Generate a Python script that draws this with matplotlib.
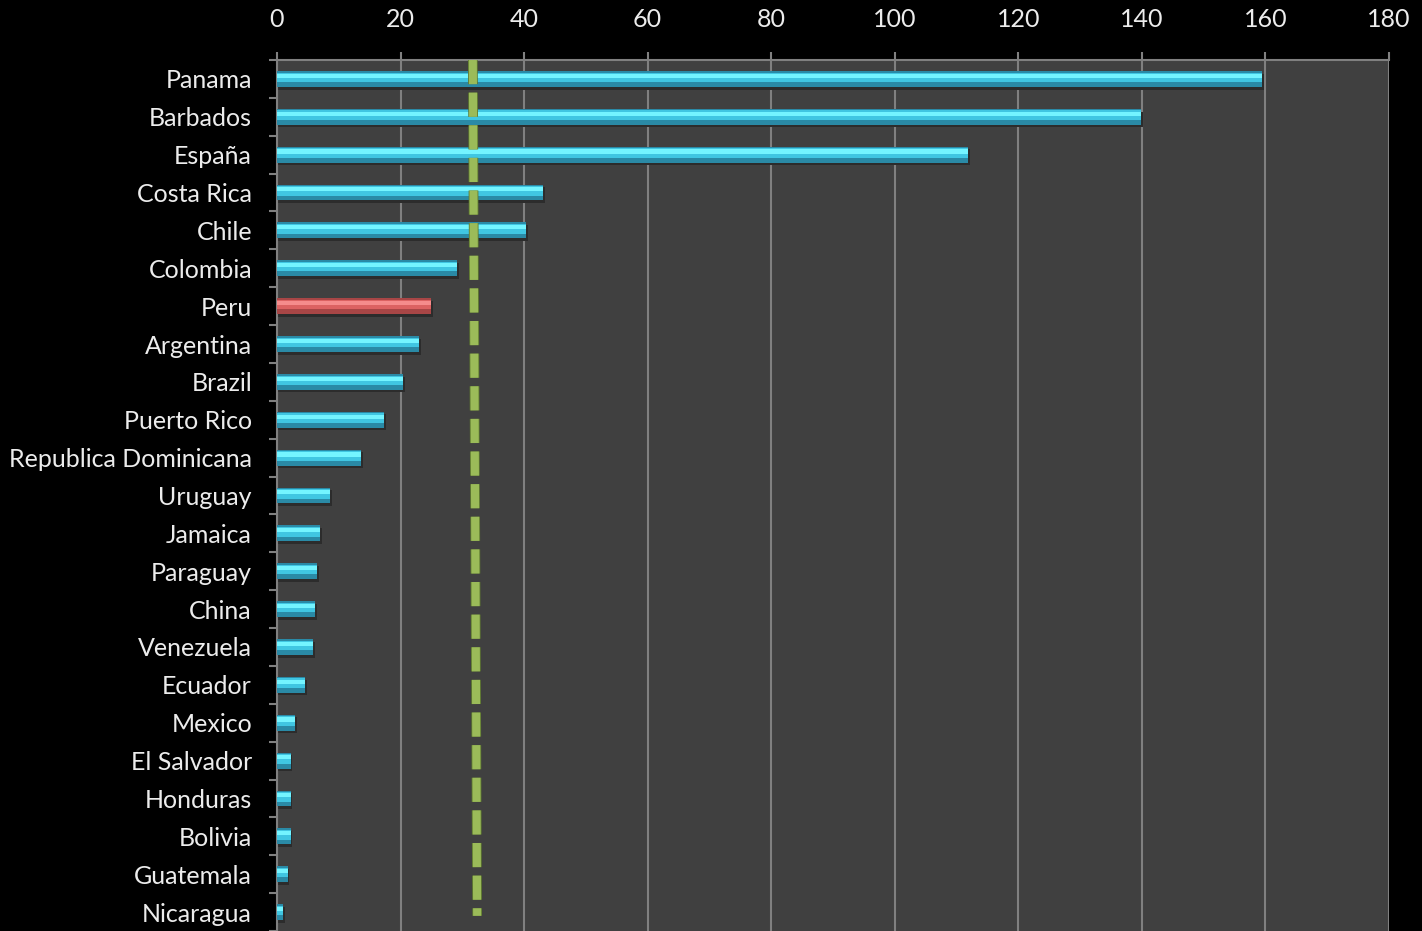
import matplotlib.pyplot as plt
import matplotlib.patheffects as pe
import numpy as np

plt.rcParams['font.family'] = ['Lato', 'DejaVu Sans']

countries = ["Panama", "Barbados", "España", "Costa Rica", "Chile", "Colombia",
             "Peru", "Argentina", "Brazil", "Puerto Rico", "Republica Dominicana",
             "Uruguay", "Jamaica", "Paraguay", "China", "Venezuela", "Ecuador",
             "Mexico", "El Salvador", "Honduras", "Bolivia", "Guatemala", "Nicaragua"]
values = [159.5, 139.8, 111.8, 43.1, 40.3, 29.2, 24.9, 23.0, 20.4, 17.3, 13.6,
          8.6, 7.0, 6.5, 6.2, 5.8, 4.6, 2.9, 2.2, 2.2, 2.2, 1.7, 1.0]
highlight = "Peru"
avg_top, avg_bottom = 31.7, 32.4   # reference line, drawn slightly tilted

BG = "#000000"
PLOT_BG = "#404040"
GRID = "#808080"
TEXT = "#ececec"

fig = plt.figure(figsize=(14.22, 9.31), dpi=100, facecolor=BG)
ax = fig.add_axes([277 / 1422, 0, 1112 / 1422, 871 / 931], facecolor=PLOT_BG)

y = np.arange(len(countries))
h = 0.42
for yi, (name, v) in enumerate(zip(countries, values)):
    if name == highlight:
        base, mid, top = "#a84646", "#dc6262", "#f58c8c"
    else:
        base, mid, top = "#2a8aa6", "#40c6e2", "#74f4ff"
    # soft drop shadow under each bar
    ax.barh(yi + 0.07, v + 0.3, height=h, color="#2c2c2c", zorder=2)
    ax.barh(yi, v, height=h, color=base, zorder=3)
    ax.barh(yi - h * 0.1, v, height=h * 0.6, color=mid, zorder=4)
    ax.barh(yi - h * 0.2, v, height=h * 0.26, color=top, zorder=5)

ax.plot([avg_top, avg_bottom], [-0.5, 22.1], color="#9bbb59", lw=5.8,
        dashes=(3, 1.05), solid_capstyle="butt", dash_capstyle="butt", zorder=6,
        path_effects=[pe.Stroke(linewidth=7, foreground="#5f7a30"), pe.Normal()])

ax.set_xlim(0, 180)
ax.set_ylim(len(countries) - 0.5, -0.5)
ax.set_xticks(np.arange(0, 181, 20))
ax.xaxis.tick_top()
ax.tick_params(axis="x", colors=GRID, labelcolor=TEXT, labelsize=18,
               length=6, width=1.5, pad=15)
ax.grid(axis="x", color=GRID, lw=1.5, zorder=1)
ax.set_axisbelow(True)

ax.set_yticks(y)
ax.set_yticklabels(countries)
ax.set_yticks(np.arange(-0.5, len(countries), 1), minor=True)
ax.tick_params(axis="y", which="major", length=0, labelcolor=TEXT,
               labelsize=18, pad=18)
ax.tick_params(axis="y", which="minor", length=6, width=1.5, color=GRID)

for side in ("right", "bottom"):
    ax.spines[side].set_visible(False)
ax.spines["top"].set_color(GRID)
ax.spines["top"].set_linewidth(1.5)
ax.spines["left"].set_color(GRID)
ax.spines["left"].set_linewidth(1.5)

fig.savefig("out.png", dpi=100, facecolor=BG)
